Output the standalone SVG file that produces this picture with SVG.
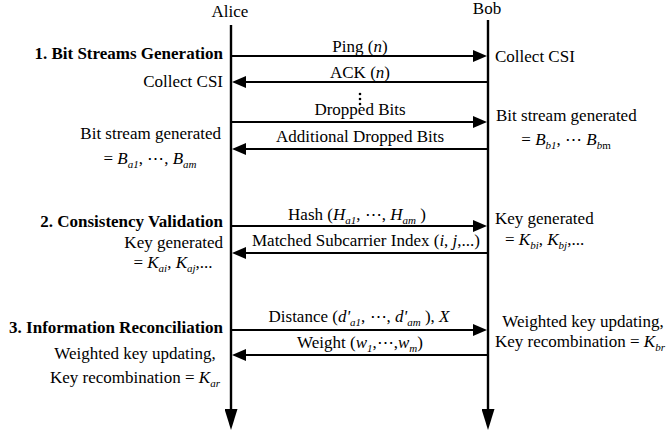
<svg xmlns="http://www.w3.org/2000/svg" width="668" height="434" viewBox="0 0 668 434">
<style>
text{font-family:"Liberation Serif","Times New Roman",serif;font-size:17px;fill:#000}
.b{font-weight:bold}
.i{font-style:italic}
.s{font-size:11px;font-style:italic}
.sr{font-size:11px}
.life{stroke:#000;stroke-width:2.4;fill:none}
.msg{stroke:#000;stroke-width:2;fill:none}
</style>
<defs>
<marker id="ah" markerUnits="userSpaceOnUse" markerWidth="14" markerHeight="12" refX="6" refY="6" orient="auto">
<path d="M0,0 L14,6 L0,12 z" fill="#000"/>
</marker>
<marker id="lh" markerUnits="userSpaceOnUse" markerWidth="21" markerHeight="13" refX="3" refY="6.5" orient="auto">
<path d="M0,0 L21,6.5 L0,13 z" fill="#000"/>
</marker>
</defs>
<rect width="668" height="434" fill="#fff"/>
<g id="alice">
<text x="230" y="17" text-anchor="middle">Alice</text>
<line class="life" x1="231" y1="25" x2="231" y2="412" marker-end="url(#lh)"/>
</g>
<g id="bob">
<text x="487" y="14" text-anchor="middle">Bob</text>
<line class="life" x1="488" y1="20" x2="488" y2="412" marker-end="url(#lh)"/>
</g>
<g id="connectors">
<line class="msg" x1="231" y1="56" x2="479" y2="56" marker-end="url(#ah)"/>
<line class="msg" x1="488" y1="82" x2="240" y2="82" marker-end="url(#ah)"/>
<line class="msg" x1="231" y1="122" x2="479" y2="122" marker-end="url(#ah)"/>
<line class="msg" x1="488" y1="149" x2="240" y2="149" marker-end="url(#ah)"/>
<line class="msg" x1="231" y1="226" x2="479" y2="226" marker-end="url(#ah)"/>
<line class="msg" x1="488" y1="253" x2="240" y2="253" marker-end="url(#ah)"/>
<line class="msg" x1="231" y1="330" x2="479" y2="330" marker-end="url(#ah)"/>
<line class="msg" x1="488" y1="355" x2="240" y2="355" marker-end="url(#ah)"/>
</g>
<g id="message-labels">
<text x="360" y="52" text-anchor="middle">Ping (<tspan class="i">n</tspan>)</text>
<text x="360" y="78" text-anchor="middle">ACK (<tspan class="i">n</tspan>)</text>
<g id="dots" fill="#000">
<circle cx="360" cy="94" r="1.3"/>
<circle cx="360" cy="99" r="1.3"/>
<circle cx="360" cy="104" r="1.3"/>
</g>
<text x="360" y="115" text-anchor="middle">Dropped Bits</text>
<text x="360" y="142" text-anchor="middle">Additional Dropped Bits</text>
<text x="357" y="220" text-anchor="middle">Hash (<tspan class="i">H</tspan><tspan class="s" dy="4">a1</tspan><tspan dy="-4">,  ⋯, </tspan><tspan class="i">H</tspan><tspan class="s" dy="4">am</tspan><tspan dy="-4"> )</tspan></text>
<text x="366" y="246" text-anchor="middle">Matched Subcarrier Index (<tspan class="i">i</tspan>, <tspan class="i">j</tspan>,...)</text>
<text x="359" y="322" text-anchor="middle">Distance (<tspan class="i">d'</tspan><tspan class="s" dy="4">a1</tspan><tspan dy="-4">, ⋯, </tspan><tspan class="i">d'</tspan><tspan class="s" dy="4">am</tspan><tspan dy="-4"> ),  </tspan><tspan class="i">X</tspan></text>
<text x="360" y="348" text-anchor="middle">Weight (<tspan class="i">w</tspan><tspan class="s" dy="4">1</tspan><tspan dy="-4">,⋯,</tspan><tspan class="i">w</tspan><tspan class="s" dy="4">m</tspan><tspan dy="-4">)</tspan></text>
</g>
<g id="alice-notes">
<text class="b" x="223" y="59" text-anchor="end">1. Bit Streams Generation</text>
<text x="223" y="87" text-anchor="end">Collect CSI</text>
<text x="221" y="139" text-anchor="end">Bit stream generated</text>
<text x="150" y="164" text-anchor="middle">= <tspan class="i">B</tspan><tspan class="s" dy="4">a1</tspan><tspan dy="-4">, ⋯, </tspan><tspan class="i">B</tspan><tspan class="s" dy="4">am</tspan></text>
<text class="b" x="223" y="227" text-anchor="end">2. Consistency Validation</text>
<text x="223" y="248" text-anchor="end">Key generated</text>
<text x="173" y="268" text-anchor="middle">= <tspan class="i">K</tspan><tspan class="s" dy="4">ai</tspan><tspan dy="-4">, </tspan><tspan class="i">K</tspan><tspan class="s" dy="4">aj</tspan><tspan dy="-4">,...</tspan></text>
<text class="b" x="223" y="333" text-anchor="end">3. Information Reconciliation</text>
<text x="135" y="359" text-anchor="middle">Weighted key updating,</text>
<text x="135" y="383" text-anchor="middle">Key recombination = <tspan class="i">K</tspan><tspan class="s" dy="4">ar</tspan></text>
</g>
<g id="bob-notes">
<text x="495" y="62">Collect CSI</text>
<text x="496" y="121">Bit stream generated</text>
<text x="566" y="145" text-anchor="middle">= <tspan class="i">B</tspan><tspan class="s" dy="4">b1</tspan><tspan dy="-4">, ⋯ </tspan><tspan class="i">B</tspan><tspan class="s" dy="4">b</tspan><tspan class="sr">m</tspan></text>
<text x="495" y="224">Key generated</text>
<text x="505" y="245">= <tspan class="i">K</tspan><tspan class="s" dy="4">bi</tspan><tspan dy="-4">, </tspan><tspan class="i">K</tspan><tspan class="s" dy="4">bj</tspan><tspan dy="-4">,...</tspan></text>
<text x="583" y="327" text-anchor="middle">Weighted key updating,</text>
<text x="495" y="347">Key recombination = <tspan class="i">K</tspan><tspan class="s" dy="4">br</tspan></text>
</g>
</svg>
